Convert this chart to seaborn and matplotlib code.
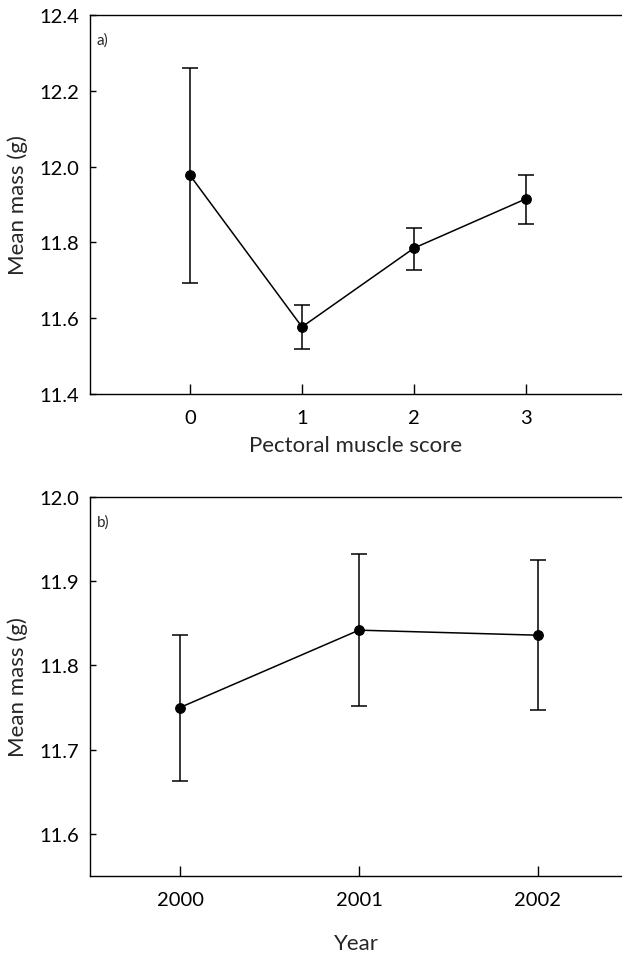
import matplotlib
matplotlib.use("Agg")
import matplotlib.pyplot as plt
import seaborn as sns
import pandas as pd

# Panel a) data
score = [0, 1, 2, 3]
score_mean = [11.977, 11.577, 11.785, 11.915]
score_upper = [12.260, 11.635, 11.839, 11.979]
score_lower = [11.693, 11.518, 11.728, 11.848]

# Panel b) data
year = [2000, 2001, 2002]
year_mean = [11.750, 11.842, 11.836]
year_upper = [11.836, 11.932, 11.925]
year_lower = [11.663, 11.752, 11.747]

sns.set_theme(style="ticks")
plt.rcParams['font.family'] = ['Lato', 'DejaVu Sans']

fig = plt.figure(figsize=(6.22, 9.54), dpi=100)
ax1 = fig.add_axes([90/622, (954-395)/954, 1-90/622, (395-16)/954])
ax2 = fig.add_axes([90/622, (954-876.7)/954, 1-90/622, (876.7-498.3)/954])


def panel(ax, x, m, up, lo, xlim, ylim, yticks, xlabel, tag, labelpad):
    df = pd.DataFrame({"x": x, "m": m})
    yerr = [[mi - l for mi, l in zip(m, lo)], [u - mi for mi, u in zip(m, up)]]
    ax.errorbar(x, m, yerr=yerr, fmt='none', ecolor='black', elinewidth=1.1,
                capsize=6, capthick=1.1, zorder=2)
    sns.lineplot(data=df, x="x", y="m", ax=ax, color='black', lw=1.1,
                 marker='o', markersize=7, markeredgecolor='black',
                 markerfacecolor='black', zorder=3)
    ax.set_xlim(*xlim)
    ax.set_ylim(*ylim)
    ax.set_xticks(x)
    ax.set_xticklabels([str(v) for v in x])
    ax.set_yticks(yticks)
    ax.set_yticklabels([f"{v:.1f}" for v in yticks])
    ax.spines['right'].set_visible(False)
    for s in ['left', 'bottom', 'top']:
        ax.spines[s].set_linewidth(1.0)
        ax.spines[s].set_color('black')
    ax.tick_params(axis='x', direction='in', length=7, width=1, pad=11,
                   labelsize=14.5, colors='black')
    ax.tick_params(axis='y', direction='in', length=4, width=1, pad=8,
                   labelsize=14.5, colors='black')
    ax.set_xlabel(xlabel, fontsize=16, labelpad=labelpad)
    ax.set_ylabel("Mean mass (g)", fontsize=16, labelpad=8)
    ax.text(0.013, 0.935, tag, transform=ax.transAxes, fontsize=11,
            ha='left', va='center')


panel(ax1, score, score_mean, score_upper, score_lower,
      (-0.893, 3.857), (11.4, 12.4), [11.4, 11.6, 11.8, 12.0, 12.2, 12.4],
      "Pectoral muscle score", "a)", 6)
panel(ax2, year, year_mean, year_upper, year_lower,
      (1999.497, 2002.47), (11.55, 12.0), [11.6, 11.7, 11.8, 11.9, 12.0],
      "Year", "b)", 18)

fig.savefig("out.png", dpi=100)
